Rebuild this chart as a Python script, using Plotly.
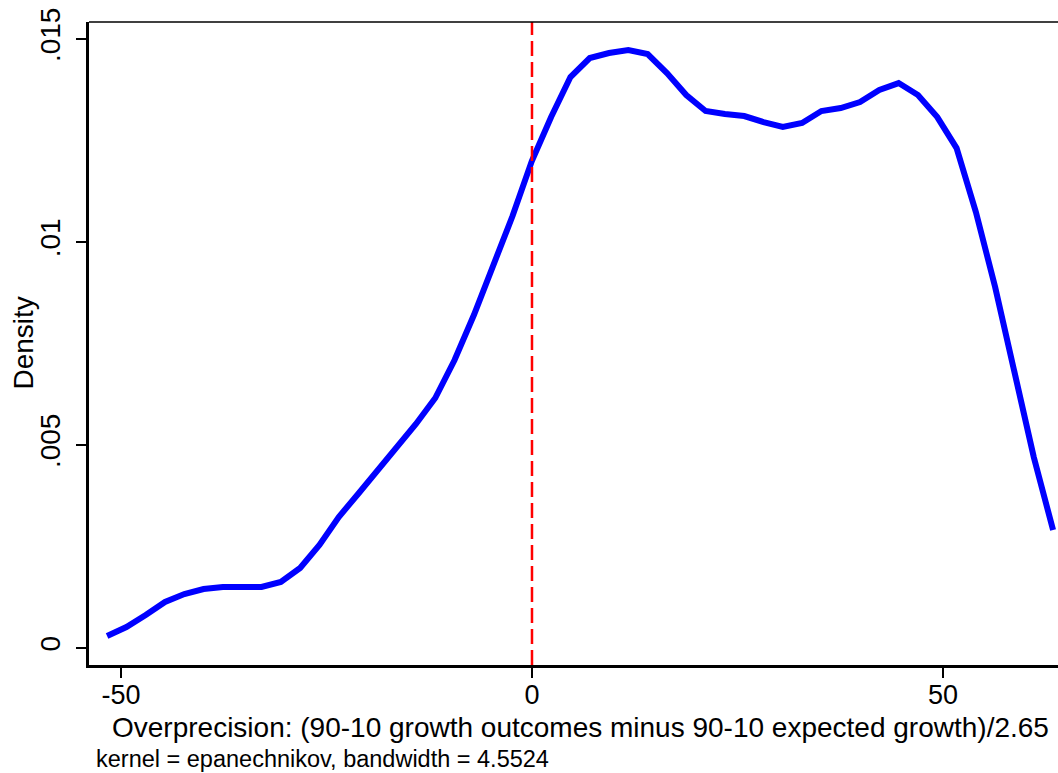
import plotly.graph_objects as go

# Kernel density estimate
x_vals = [-51.70, -49.35, -47.00, -44.65, -42.30, -39.96, -37.61, -35.26, -32.91, -30.56,
          -28.21, -25.86, -23.51, -21.16, -18.81, -16.47, -14.12, -11.77, -9.42, -7.07,
          -4.72, -2.37, -0.02, 2.33, 4.68, 7.03, 9.37, 11.72, 14.07, 16.42,
          18.77, 21.12, 23.47, 25.82, 28.17, 30.52, 32.86, 35.21, 37.56, 39.91,
          42.26, 44.61, 46.96, 49.31, 51.66, 54.01, 56.35, 58.70, 61.05, 63.40]
density = [0.000296, 0.000517, 0.000813, 0.001133, 0.001330, 0.001453, 0.001502, 0.001502, 0.001502, 0.001626,
           0.001970, 0.002537, 0.003227, 0.003793, 0.004360, 0.004926, 0.005517, 0.006158, 0.007094, 0.008202,
           0.009409, 0.010640, 0.011995, 0.013079, 0.014064, 0.014532, 0.014655, 0.014729, 0.014631, 0.014163,
           0.013621, 0.013227, 0.013153, 0.013103, 0.012956, 0.012833, 0.012931, 0.013227, 0.013300, 0.013448,
           0.013744, 0.013916, 0.013621, 0.013079, 0.012315, 0.010739, 0.008892, 0.006847, 0.004704, 0.002906]

ref_line_x = 0
x_ticks = [-50, 0, 50]
x_tick_text = ["-50", "0", "50"]
y_ticks = [0, 0.005, 0.01, 0.015]
y_tick_text = ["0", ".005", ".01", ".015"]
x_title = "Overprecision: (90-10 growth outcomes minus 90-10 expected growth)/2.65"
y_title = "Density"
note = "kernel = epanechnikov, bandwidth = 4.5524"

FONT = "Liberation Sans, Arial, sans-serif"

fig = go.Figure()
fig.add_trace(go.Scatter(x=x_vals, y=density, mode="lines",
                         line=dict(color="#0000FF", width=6), showlegend=False,
                         hoverinfo="skip"))

fig.add_shape(type="line", xref="x", yref="paper", x0=ref_line_x, x1=ref_line_x, y0=0, y1=1,
              line=dict(color="#FF0000", width=2.5, dash="15px,6px"))
# thin top border of the plot region
fig.add_shape(type="line", xref="paper", yref="paper", x0=0, x1=1, y0=1, y1=1,
              line=dict(color="black", width=1.5))

fig.update_layout(
    width=1058, height=773,
    margin=dict(l=89, r=0, t=22, b=108),
    paper_bgcolor="white", plot_bgcolor="white",
    font=dict(family=FONT, color="black", size=28),
    xaxis=dict(range=[-53.9, 64.0], tickvals=x_ticks, ticktext=x_tick_text,
               showgrid=False, zeroline=False, showline=True, linecolor="black", linewidth=3,
               ticks="outside", ticklen=10, tickwidth=2, tickcolor="black",
               ticklabelstandoff=-6,
               tickfont=dict(size=27, family=FONT)),
    yaxis=dict(range=[-0.000419, 0.01542], tickvals=y_ticks, ticktext=y_tick_text,
               showgrid=False, zeroline=False, showline=True, linecolor="black", linewidth=3,
               ticks="outside", ticklen=10, tickwidth=2, tickcolor="black", tickangle=-90,
               ticklabelstandoff=5,
               tickfont=dict(size=28, family=FONT)),
    annotations=[
        dict(text=x_title, xref="paper", yref="paper", x=0.5077, y=0, yshift=-45,
             xanchor="center", yanchor="top", showarrow=False, font=dict(size=28, family=FONT)),
        dict(text=y_title, xref="paper", yref="paper", x=0, xshift=-66, y=0.5,
             xanchor="center", yanchor="middle", textangle=-90, showarrow=False,
             font=dict(size=28, family=FONT)),
        dict(text=note, xref="paper", yref="paper", x=0, xshift=5, y=0, yshift=-79,
             xanchor="left", yanchor="top", showarrow=False, font=dict(size=23.5, family=FONT)),
    ],
)

fig.write_html("out.html")
